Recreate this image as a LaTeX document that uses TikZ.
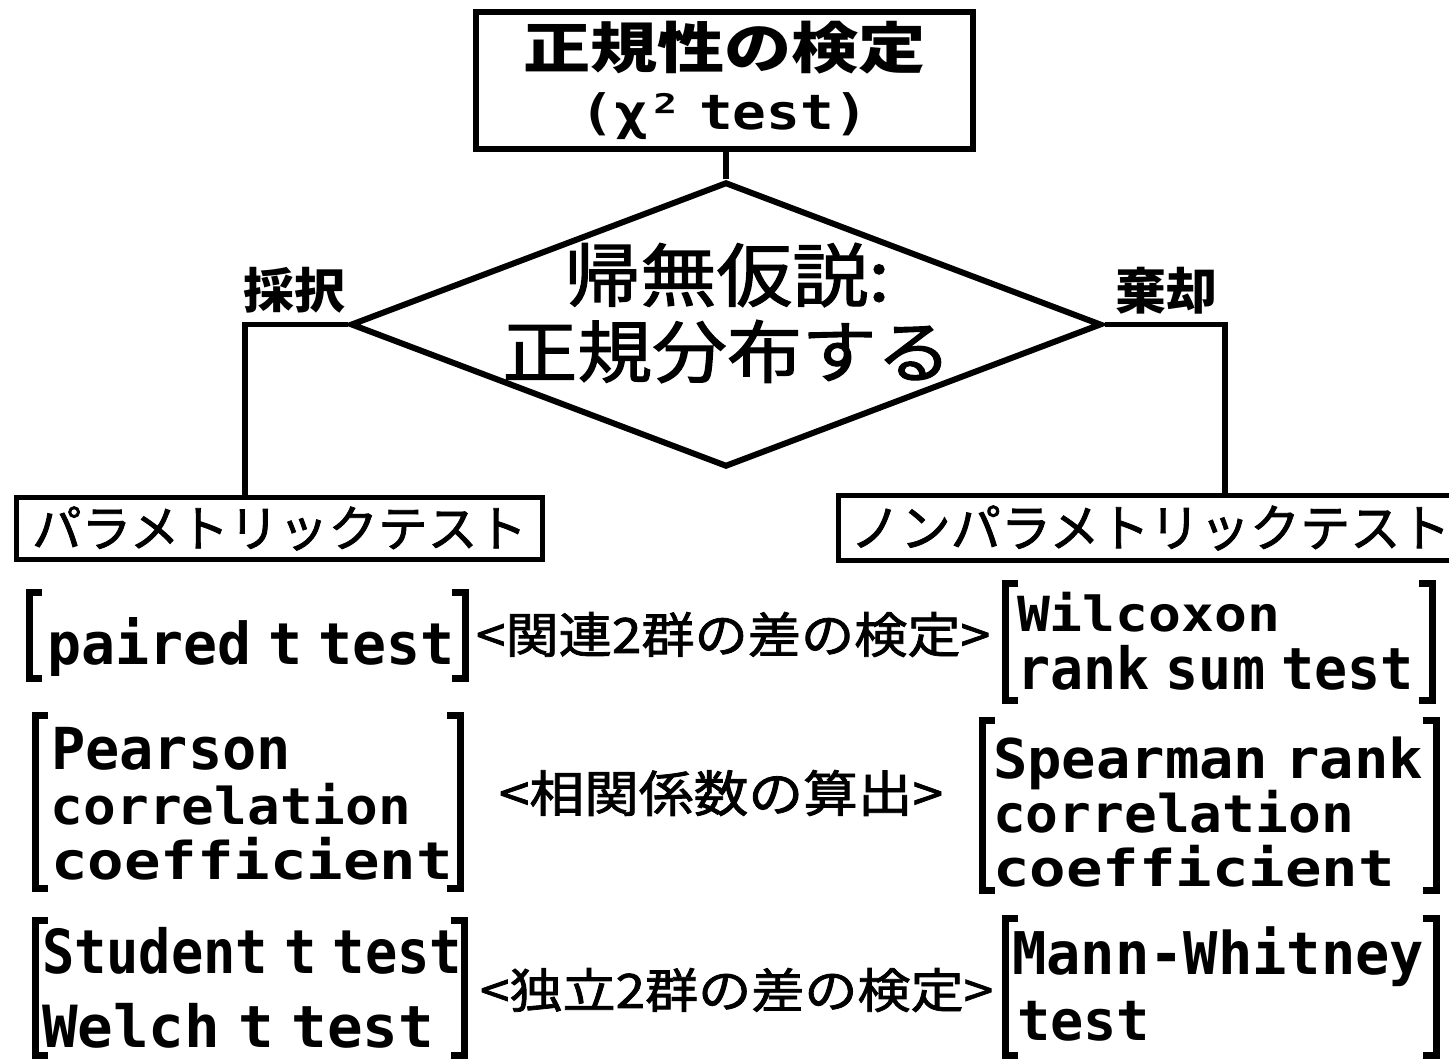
\documentclass[tikz,border=0pt]{standalone}
\usepackage{fontspec}
\usepackage{graphicx}
\usetikzlibrary{shapes.geometric}
\newfontfamily\jp{Noto Sans CJK JP}
\newfontfamily\jpm{Noto Sans CJK JP}[FakeBold=1.6]
\newfontfamily\mono{DejaVu Sans Mono}
\newcommand\fitbx[3]{\resizebox*{#1pt}{#2pt}{#3}}
\newcommand\nsp{\hspace{0.3em}}
\newcommand\mystackc[1]{\vbox{\offinterlineskip\halign{\hfil##\hfil\cr#1\crcr}}}
\begin{document}
\begin{tikzpicture}[x=1pt,y=-1pt,
  frame/.style={draw,line width=6pt,inner sep=0pt},
  sbox/.style={draw,line width=5pt,inner sep=0pt},
  conn/.style={line width=5.5pt},
  brk/.style={line width=7pt,line cap=butt,line join=miter},
  txt/.style={inner sep=0pt,outer sep=0pt,anchor=north west,font=\mono\bfseries},
]
\useasboundingbox[fill=white] (0,0) rectangle (1449,1060);

% title box
\node[frame,minimum width=497pt,minimum height=137pt] (title) at (724.5,80.5)
  {\mystackc{\fitbx{403}{53}{\jp\bfseries 正規性の検定}\cr\noalign{\vskip18pt}\fitbx{287}{47}{\mono\bfseries (χ²\nsp test)}}};

% decision diamond
\node[draw,shape=diamond,line width=6pt,minimum width=751pt,minimum height=285pt,inner sep=0pt] (dia) at (726,324.5) {};
\node[inner sep=0pt] (dtext) at (727,313)
  {\mystackc{\fitbx{325}{64}{\jpm 帰無仮説:}\cr\noalign{\vskip13pt}\fitbx{449}{63}{\jpm 正規分布する}}};

% branch labels
\node[txt] (acc) at (243,267) {\fitbx{102}{46}{\jp\bfseries 採択}};
\node[txt] (rej) at (1115,267) {\fitbx{102}{47}{\jp\bfseries 棄却}};

% category boxes
\node[sbox,minimum width=526pt,minimum height=62pt] (para) at (279.5,528.5)
  {\fitbx{495}{44}{\jpm パラメトリックテスト}};
\node[sbox,minimum width=624pt,minimum height=65pt] (npara) at (1150.5,528)
  {\fitbx{600}{45}{\jpm ノンパラメトリックテスト}};

% connectors
\draw[conn] (dia.north) -- (dia.north |- title.south);
\draw[conn] (dia.west) -| (245,0 |- para.north);
\draw[conn] (dia.east) -| (1225,0 |- npara.north);

% row 1
\draw[brk] (42,592) -| (29,678) -- (42,678);
\node[txt] (pt) at (47,618) {\fitbx{408}{59}{paired\nsp t\nsp test}};
\draw[brk] (452,592) -| (465,678) -- (452,678);
\node[txt] (m1) at (476,612) {\fitbx{514}{45}{\jpm\mdseries <関連2群の差の検定>}};
\draw[brk] (1018,583) -| (1005,700) -- (1018,700);
\node[txt] (w1) at (1017,592) {\fitbx{263}{40}{Wilcoxon}};
\node[txt] (w2) at (1017,645) {\fitbx{397}{45}{rank\nsp sum\nsp test}};
\draw[brk] (1419,583) -| (1432,700) -- (1419,700);

% row 2
\draw[brk] (48,715) -| (35,888) -- (48,888);
\node[txt] (p1) at (51,727) {\fitbx{240}{43}{Pearson}};
\node[txt] (p2) at (51,783) {\fitbx{360}{42}{correlation}};
\node[txt] (p3) at (51,837) {\fitbx{402}{43}{coefficient}};
\draw[brk] (447,715) -| (460,888) -- (447,888);
\node[txt] (m2) at (499,770) {\fitbx{444}{46}{\jpm\mdseries <相関係数の算出>}};
\draw[brk] (995,720) -| (982,890) -- (995,890);
\node[txt] (s1) at (993,737) {\fitbx{430}{53}{Spearman\nsp rank}};
\node[txt] (s2) at (993,790) {\fitbx{361}{43}{correlation}};
\node[txt] (s3) at (993,845) {\fitbx{402}{42}{coefficient}};
\draw[brk] (1423,720) -| (1436,890) -- (1423,890);

% row 3
\draw[brk] (48,920) -| (35,1055) -- (48,1055);
\node[txt] (u1) at (42,927) {\fitbx{420}{47}{Student\nsp t\nsp test}};
\node[txt] (u2) at (42,1003) {\fitbx{392}{45}{Welch\nsp t\nsp test}};
\draw[brk] (451,920) -| (464,1055) -- (451,1055);
\node[txt] (m3) at (480,968) {\fitbx{513}{44}{\jpm\mdseries <独立2群の差の検定>}};
\draw[brk] (1018,918) -| (1005,1055) -- (1018,1055);
\node[txt] (n1) at (1012,927) {\fitbx{412}{60}{Mann-Whitney}};
\node[txt] (n2) at (1017,1001) {\fitbx{133}{40}{test}};
\draw[brk] (1423,918) -| (1436,1055) -- (1423,1055);
\end{tikzpicture}
\end{document}
